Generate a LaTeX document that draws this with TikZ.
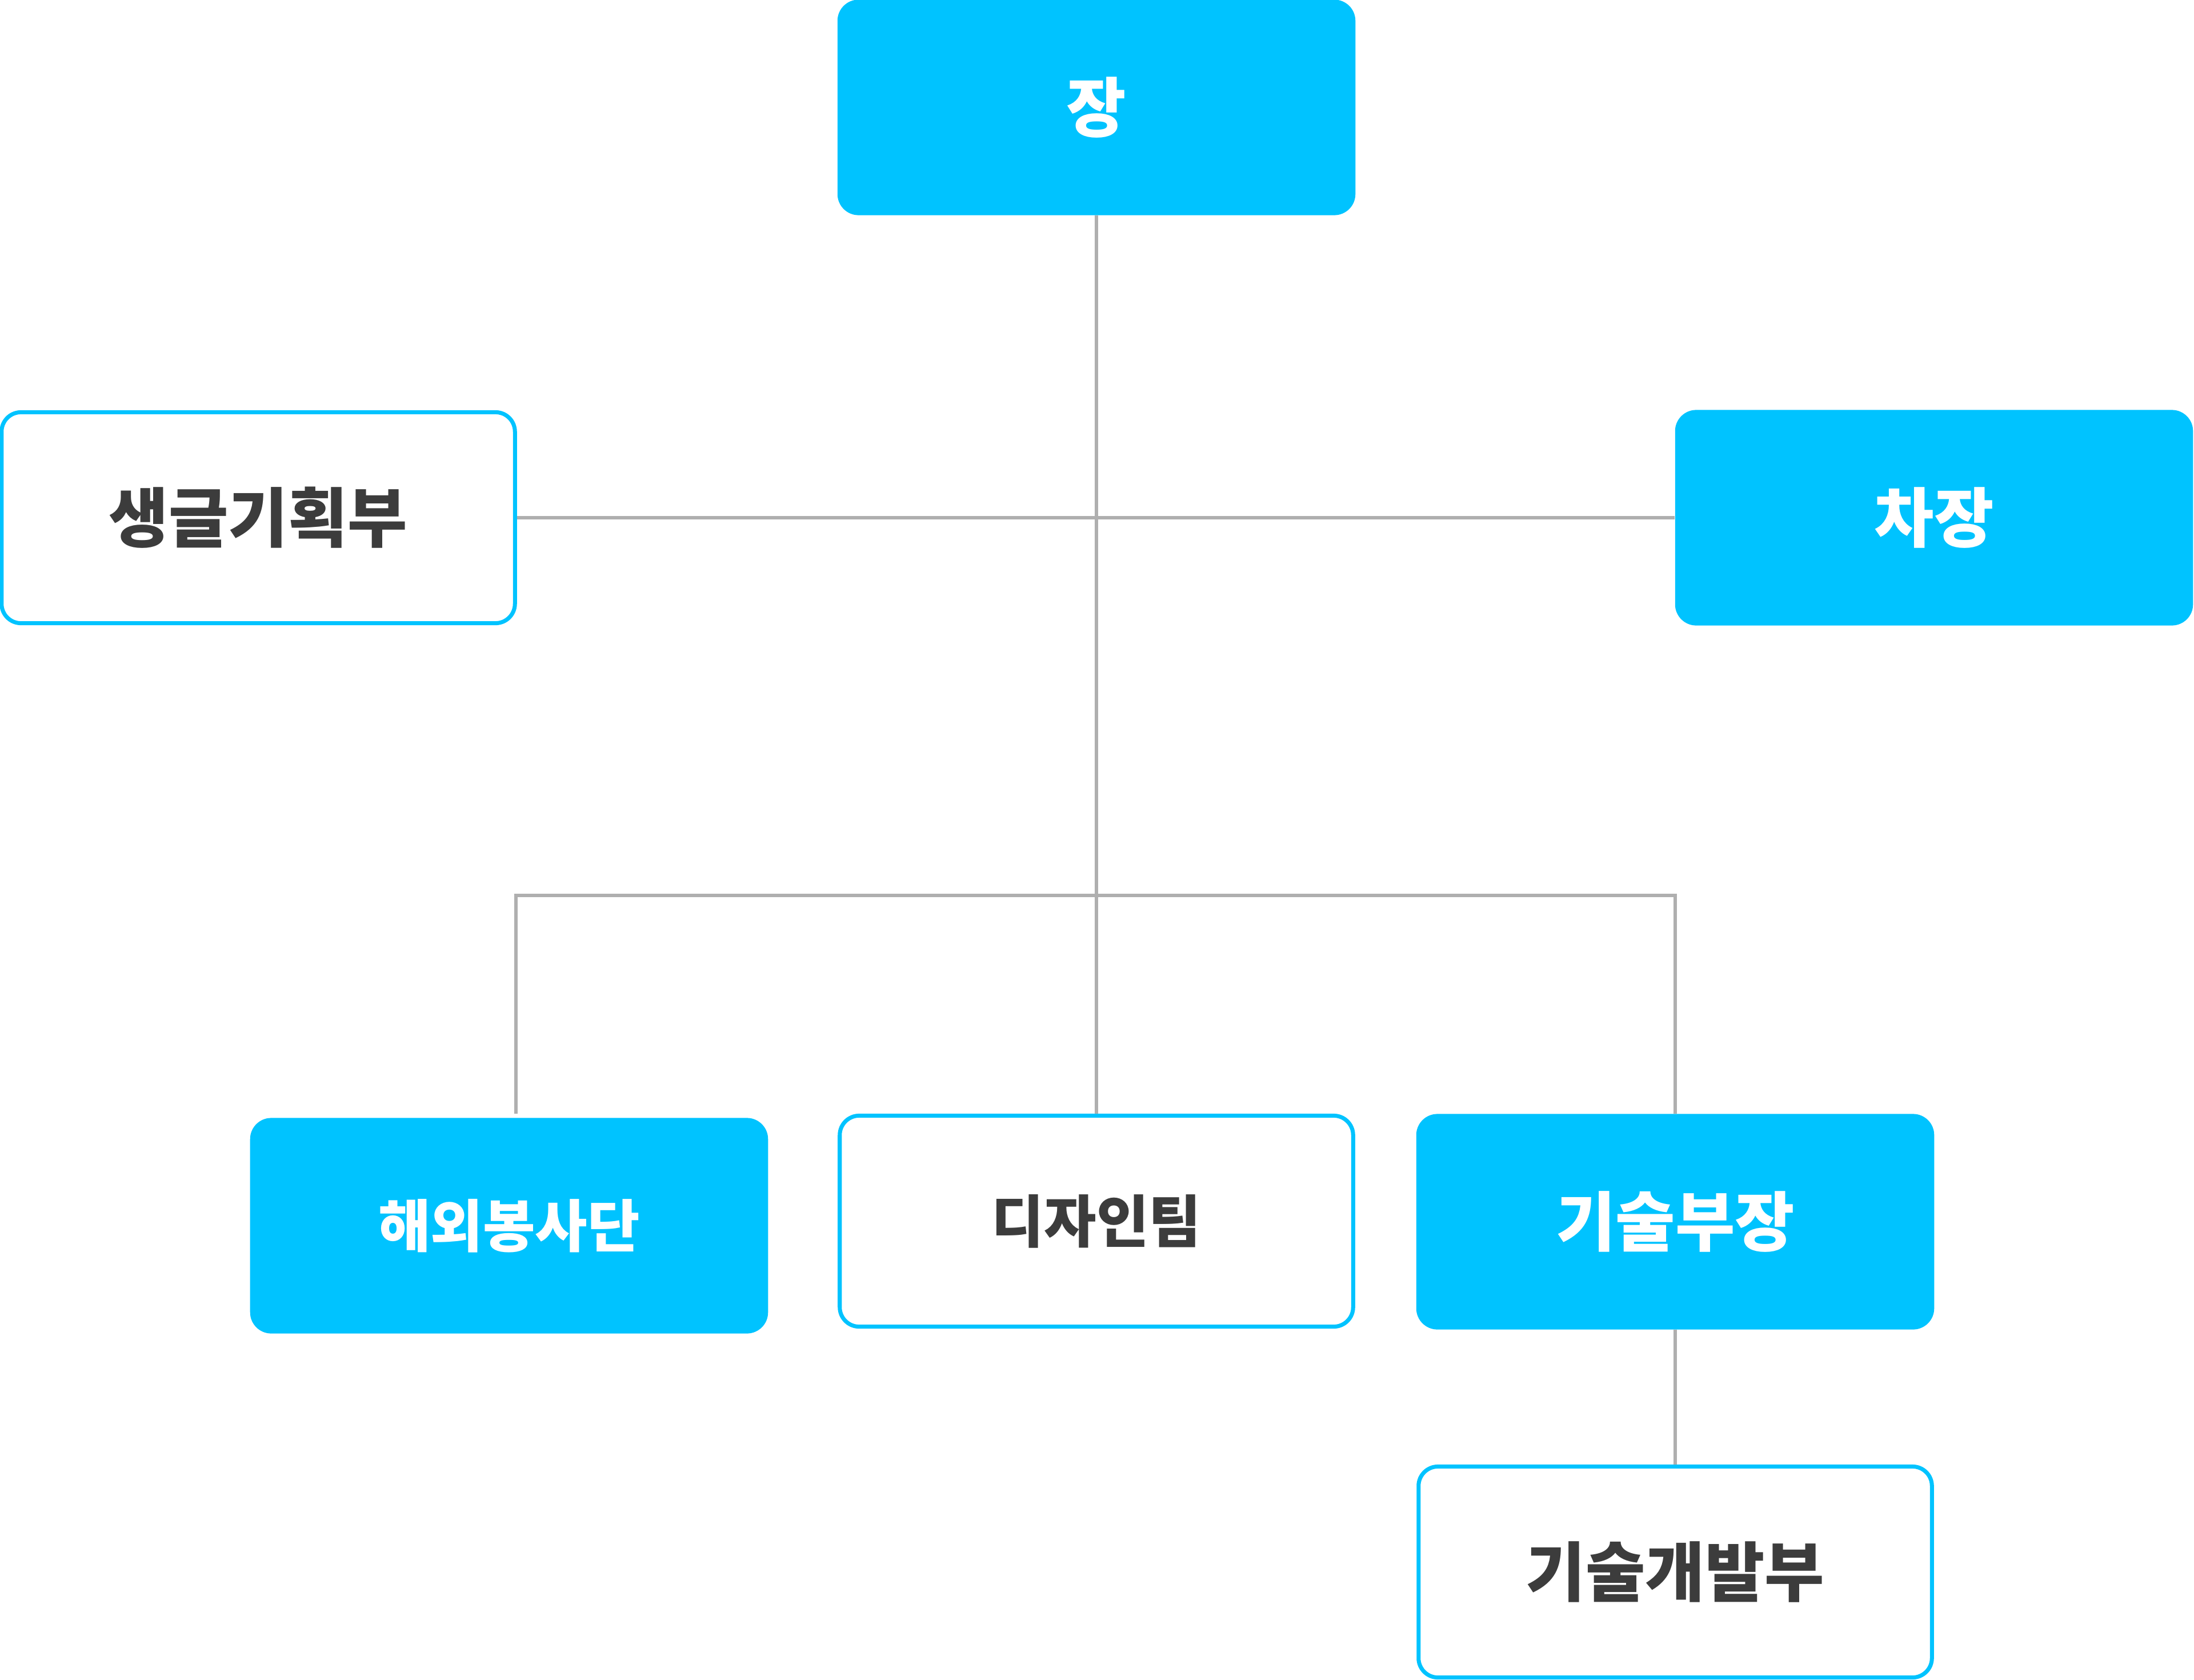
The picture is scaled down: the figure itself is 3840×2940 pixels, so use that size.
\documentclass[tikz,border=0pt]{standalone}
\usepackage{fontspec}
\newfontfamily\krfont{Noto Sans CJK KR}
\usepackage{tikz}
\usetikzlibrary{positioning,calc}
\usepackage{xcolor}
\definecolor{ocCyan}{HTML}{00C3FF}
\definecolor{ocGray}{HTML}{AFAFAF}
\definecolor{ocText}{HTML}{3C3C3C}

\begin{document}
\begin{tikzpicture}[
  x=0.01cm, y=-0.01cm,
  font=\krfont\bfseries\fontsize{32.3}{38}\selectfont,
  filled/.style={fill=ocCyan, draw=none, text=white, rounded corners=0.37cm,
    minimum width=9.06cm, minimum height=3.77cm, inner sep=0pt},
  framed/.style={draw=ocCyan, line width=2pt, fill=white, text=ocText,
    rounded corners=0.34cm, minimum width=8.98cm, minimum height=3.69cm, inner sep=0pt},
  smaller/.style={font=\krfont\bfseries\fontsize{28.3}{34}\selectfont},
  link/.style={draw=ocGray, line width=1.7pt}
]
\useasboundingbox (0,0) rectangle (3840,2940);
% top row
\node[filled] (jang) at (1919,188) {장};
\node[framed] (saeng) at (452,906) {생글기획부};
\node[filled] (cha) at (3385,906) {차장};
% lower row
\node[filled, smaller] (haeoe) at (891,2145) {해외봉사단};
\node[framed, smaller] (design) at (1919,2137) {디자인팀};
\node[filled] (gisul) at (2932,2138) {기술부장};
\node[framed] (gaebal) at (2932,2751) {기술개발부};
\coordinate (fork) at (1916,1567);
% connectors
\draw[link] (saeng.east) -- (cha.west);
\draw[link] (jang.south) -- (design.north);
\draw[link, shorten <=0.07cm] ([xshift=0.12cm]haeoe.north) |- (fork) -| (gisul.north);
\draw[link] (gisul.south) -- (gaebal.north);
\end{tikzpicture}
\end{document}
